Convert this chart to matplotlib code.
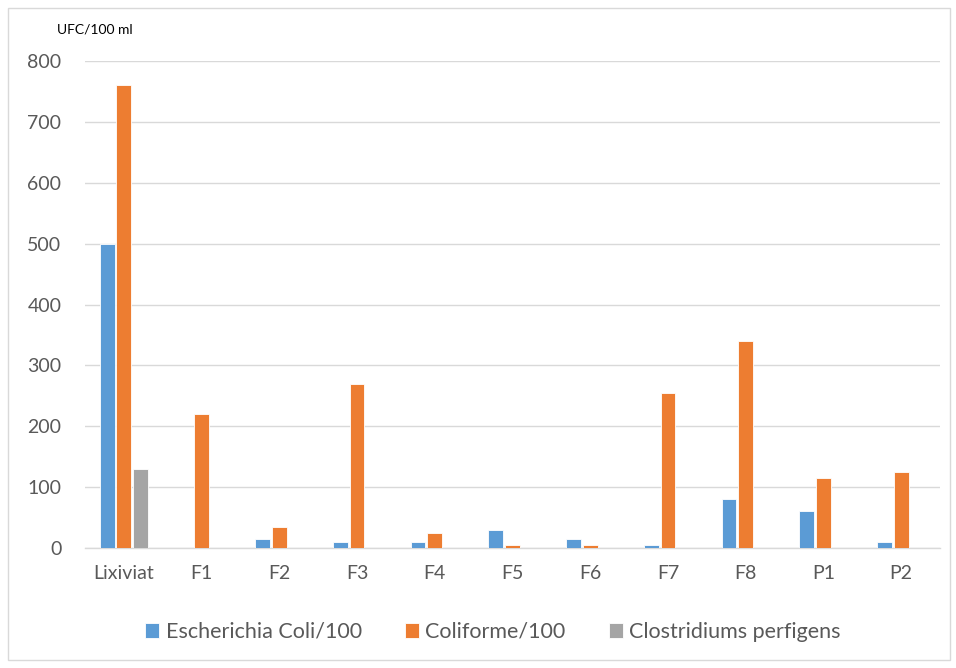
import matplotlib
matplotlib.use("Agg")
import matplotlib.pyplot as plt
import numpy as np
from matplotlib.patches import Rectangle

plt.rcParams['font.family'] = ['Lato', 'DejaVu Sans']

categories = ["Lixiviat", "F1", "F2", "F3", "F4", "F5", "F6", "F7", "F8", "P1", "P2"]
e_coli = [500, 0, 15, 10, 10, 30, 15, 5, 80, 60, 10]
coliforme = [760, 220, 35, 270, 25, 5, 5, 255, 340, 115, 125]
clostridium = [130, 0, 0, 0, 0, 0, 0, 0, 0, 0, 0]
series_names = ["Escherichia Coli/100", "Coliforme/100", "Clostridiums perfigens"]
colors = ["#5B9BD5", "#ED7D31", "#A5A5A5"]
text_color = "#595959"

fig = plt.figure(figsize=(9.56, 6.68), dpi=100)
fig.patches.append(Rectangle((8 / 956, 8 / 668), 942 / 956, 652 / 668,
                             transform=fig.transFigure, fill=False,
                             edgecolor="#D9D9D9", linewidth=1.0))

ax = fig.add_axes([85 / 956, 1 - 548 / 668, 855 / 956, (548 - 61) / 668])

x = np.arange(len(categories))
width = 0.19
step = 0.215
for i, (vals, name, col) in enumerate(zip([e_coli, coliforme, clostridium], series_names, colors)):
    ax.bar(x + (i - 1) * step, vals, width, color=col, label=name,
           edgecolor="white", linewidth=0.6, zorder=3)

ax.set_xlim(-0.5, len(categories) - 0.5)
ax.set_ylim(0, 800)
ax.set_yticks(np.arange(0, 801, 100))
ax.yaxis.grid(True, color="#D9D9D9", linewidth=1.0, zorder=0)
ax.set_axisbelow(True)
for s in ["top", "right", "left"]:
    ax.spines[s].set_visible(False)
ax.spines["bottom"].set_color("#D9D9D9")
ax.spines["bottom"].set_linewidth(1.0)
ax.tick_params(axis="both", length=0, labelsize=14, colors=text_color)
ax.tick_params(axis="y", pad=17)
ax.tick_params(axis="x", pad=12)
ax.set_xticks(x)
ax.set_xticklabels(categories)

fig.text(57 / 956, 1 - 30 / 668, "UFC/100 ml", fontsize=10, color="black", va="center", ha="left")

fig.legend(loc="center", bbox_to_anchor=(493 / 956, 1 - 632 / 668), ncol=3, frameon=False,
           fontsize=15.5, labelcolor=text_color, handlelength=0.65, handleheight=0.65,
           handletextpad=0.3, columnspacing=2.0)

fig.savefig("out.png", dpi=100)
